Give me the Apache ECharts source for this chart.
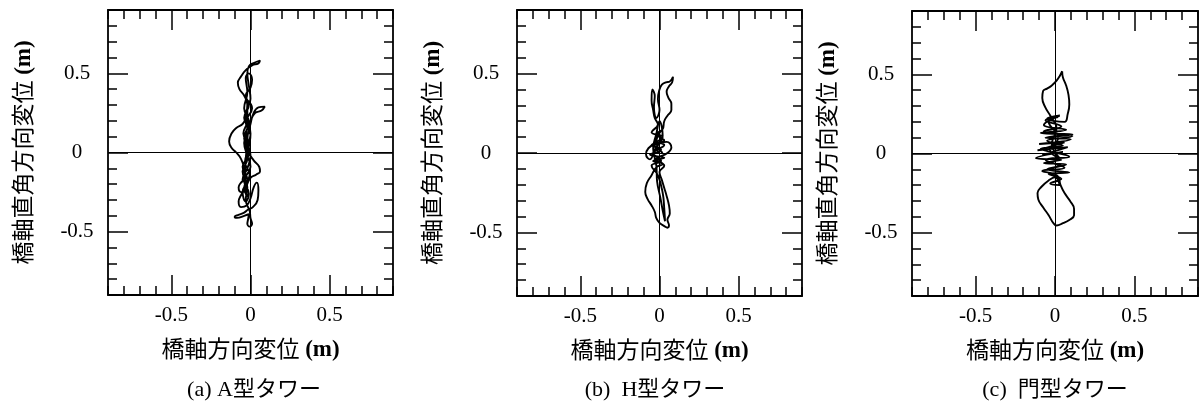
<!DOCTYPE html>
<html>
<head>
<meta charset="utf-8">
<script src="https://cdn.jsdelivr.net/npm/echarts@6/dist/echarts.min.js"></script>
<style>
  html, body { margin: 0; padding: 0; background: #fff; }
  #chart { width: 1204px; height: 408px; }
</style>
</head>
<body>
<div id="chart"></div>
<script>
// Axis range and labelled ticks (m)
const axisMin = -0.9;
const axisMax = 0.9;
const minorStep = 0.1;
const tickValues = [-0.5, 0, 0.5];
const tickLabels = ['-0.5', '0', '0.5'];

// Axis titles and panel captions
const xTitle = '橋軸方向変位';
const yTitle = '橋軸直角方向変位';
const unitLabel = '(m)';
const captions = ['(a) A型タワー', '(b)  H型タワー', '(c)  門型タワー'];

// Tower-top displacement orbits: [bridge-axis, transverse] (m)
const orbitA = [
  [-0.02, 0.00], [0.00, 0.12], [-0.03, 0.24], [0.00, 0.34], [-0.01, 0.42], [-0.02, 0.50],
  [-0.01, 0.545], [0.02, 0.565], [0.06, 0.58], [0.05, 0.563], [0.01, 0.55], [-0.03, 0.52],
  [-0.06, 0.48], [-0.08, 0.44], [-0.07, 0.40], [-0.04, 0.36], [-0.02, 0.30], [-0.03, 0.22],
  [-0.05, 0.18], [-0.09, 0.155], [-0.12, 0.12], [-0.135, 0.07], [-0.12, 0.03], [-0.09, 0.00],
  [-0.06, -0.04], [-0.04, -0.10], [-0.03, -0.16], [-0.06, -0.19], [-0.075, -0.22], [-0.06, -0.25],
  [-0.03, -0.24], [-0.03, -0.20], [-0.05, -0.17], [-0.02, -0.10], [0.00, -0.02], [-0.02, 0.08],
  [0.00, 0.18], [0.02, 0.25], [0.05, 0.285], [0.09, 0.29], [0.07, 0.265], [0.03, 0.25],
  [0.00, 0.20], [-0.03, 0.10], [-0.01, 0.00], [0.02, -0.05], [0.055, -0.09], [0.06, -0.12],
  [0.035, -0.14], [0.00, -0.16], [-0.03, -0.22], [-0.06, -0.27], [-0.075, -0.31], [-0.06, -0.345],
  [-0.025, -0.335], [0.00, -0.29], [0.02, -0.22], [0.04, -0.19], [0.05, -0.24], [0.045, -0.30],
  [0.015, -0.345], [-0.015, -0.36], [-0.04, -0.38], [-0.08, -0.395], [-0.10, -0.405], [-0.085, -0.413],
  [-0.04, -0.40], [-0.01, -0.39], [-0.015, -0.42], [-0.02, -0.45], [-0.005, -0.468], [0.01, -0.45],
  [0.00, -0.415], [-0.005, -0.37], [-0.03, -0.30], [-0.02, -0.22], [-0.05, -0.12], [-0.02, -0.04],
  [-0.04, 0.06], [-0.01, 0.14], [-0.04, 0.22], [-0.01, 0.30], [-0.03, 0.36], [0.00, 0.41],
  [0.01, 0.46], [-0.01, 0.50], [-0.03, 0.47], [-0.02, 0.38], [-0.04, 0.28], [-0.01, 0.19],
  [-0.04, 0.09], [-0.01, -0.01], [-0.05, -0.09], [-0.02, -0.17], [-0.05, -0.25], [-0.03, -0.31],
  [-0.01, -0.26], [-0.04, -0.18], [0.00, -0.09], [-0.03, 0.02], [0.00, 0.11], [-0.03, 0.19],
  [0.01, 0.28], [-0.02, 0.33], [-0.02, 0.20], [-0.045, 0.12], [-0.01, 0.04], [-0.035, -0.06],
  [-0.005, -0.14], [-0.04, -0.22], [-0.02, -0.28], [-0.035, -0.14], [-0.02, 0.05]
];

const orbitB = [
  [0.00, 0.00], [-0.03, 0.05], [0.02, 0.10], [-0.05, 0.13], [-0.01, 0.18], [-0.03, 0.22],
  [-0.04, 0.27], [-0.05, 0.33], [-0.045, 0.40], [-0.03, 0.36], [-0.035, 0.29], [-0.02, 0.22],
  [0.00, 0.27], [-0.01, 0.34], [0.00, 0.40], [0.015, 0.43], [0.04, 0.445], [0.065, 0.45],
  [0.085, 0.48], [0.08, 0.445], [0.06, 0.42], [0.045, 0.385], [0.055, 0.35], [0.075, 0.31],
  [0.075, 0.27], [0.05, 0.235], [0.03, 0.20], [0.02, 0.15], [-0.02, 0.12], [0.03, 0.08],
  [-0.05, 0.05], [0.01, 0.02], [-0.06, -0.01], [0.03, -0.03], [-0.04, -0.05], [0.02, -0.07],
  [-0.02, -0.09], [-0.05, -0.14], [-0.08, -0.19], [-0.09, -0.245], [-0.075, -0.29], [-0.05, -0.33],
  [-0.03, -0.37], [-0.02, -0.41], [0.00, -0.44], [0.03, -0.46], [0.05, -0.47], [0.06, -0.455],
  [0.05, -0.42], [0.065, -0.38], [0.06, -0.33], [0.045, -0.27], [0.03, -0.22], [0.015, -0.17],
  [0.00, -0.12], [0.03, -0.08], [-0.02, -0.04], [0.05, 0.00], [0.075, 0.035], [0.045, 0.07],
  [-0.02, 0.06], [-0.07, 0.03], [-0.085, -0.01], [-0.06, -0.04], [-0.03, 0.02], [0.02, 0.11],
  [0.00, 0.20], [-0.02, 0.12], [-0.04, 0.03], [-0.02, -0.08], [-0.015, -0.18], [0.005, -0.28],
  [0.02, -0.36], [0.035, -0.43], [0.03, -0.35], [0.02, -0.25], [-0.01, -0.14], [-0.05, -0.08],
  [0.01, -0.05], [-0.04, 0.00], [0.03, 0.05], [-0.03, 0.08], [0.01, 0.14], [-0.02, 0.07],
  [0.02, 0.00]
];

const orbitC = [
  [0.045, 0.52], [0.05, 0.48], [0.07, 0.43], [0.085, 0.37], [0.09, 0.31], [0.08, 0.25],
  [0.06, 0.20], [-0.05, 0.22], [0.03, 0.24], [-0.07, 0.18], [0.07, 0.15], [-0.09, 0.13],
  [0.11, 0.12], [-0.06, 0.10], [0.10, 0.09], [-0.10, 0.06], [0.06, 0.07], [-0.11, 0.02],
  [0.08, 0.04], [-0.08, -0.01], [0.05, 0.01], [-0.12, -0.03], [0.04, -0.04], [-0.07, -0.06],
  [0.07, -0.07], [-0.05, -0.10], [0.09, -0.12], [-0.04, -0.13], [0.04, -0.16], [-0.03, -0.19],
  [0.03, -0.20], [0.00, -0.15], [-0.04, -0.17], [-0.085, -0.21], [-0.11, -0.25], [-0.105, -0.29],
  [-0.075, -0.34], [-0.04, -0.39], [-0.01, -0.44], [0.01, -0.455], [0.05, -0.44], [0.09, -0.42],
  [0.12, -0.39], [0.12, -0.35], [0.095, -0.30], [0.06, -0.25], [0.035, -0.20], [0.015, -0.14],
  [-0.08, -0.11], [0.06, -0.09], [-0.06, -0.04], [0.09, -0.02], [-0.09, 0.03], [0.05, 0.05],
  [-0.05, 0.08], [0.11, 0.11], [-0.07, 0.14], [0.04, 0.17], [-0.06, 0.21], [0.02, 0.23],
  [-0.04, 0.20], [0.02, 0.10], [-0.03, 0.02], [0.03, -0.03], [-0.02, 0.06], [0.01, 0.16],
  [-0.03, 0.24], [-0.06, 0.29], [-0.08, 0.35], [-0.075, 0.395], [-0.05, 0.41], [-0.02, 0.43],
  [0.01, 0.46], [0.03, 0.49], [0.045, 0.52]
];

const orbits = [orbitA, orbitB, orbitC];

const FONT = "'Liberation Serif', 'Noto Sans CJK JP', serif";
const INK = '#000';

// Plot frames for the three panels (px)
const frames = [
  { left: 108, top: 10, width: 285, height: 285 },
  { left: 517, top: 10, width: 285, height: 286 },
  { left: 912, top: 11, width: 286, height: 285 }
];
const captionCenters = [254, 655, 1055];

function tickLabel(v) {
  const i = tickValues.findIndex(t => Math.abs(t - v) < 1e-9);
  return i >= 0 ? tickLabels[i] : '';
}

const nameStyle = {
  fontFamily: FONT, fontSize: 23, color: INK,
  rich: { u: { fontFamily: FONT, fontSize: 23, fontWeight: 'bold', color: INK } }
};

// Four axes per direction: framed axis with 0.1 ticks, opposite frame, and long ticks at labelled values
function axesFor(dim, gi) {
  const isX = dim === 'x';
  const base = {
    type: 'value', gridIndex: gi, min: axisMin, max: axisMax,
    splitLine: { show: false }, silent: true
  };
  const lineOn = { show: true, onZero: false, lineStyle: { color: INK, width: 1.8 } };
  const lineOff = { show: false, onZero: false };
  const minorTick = { show: true, inside: true, length: 9, lineStyle: { color: INK, width: 1.5 } };
  const majorTick = { show: true, inside: true, length: 20, customValues: tickValues, lineStyle: { color: INK, width: 1.5 } };
  const main = Object.assign({}, base, {
    position: isX ? 'bottom' : 'left',
    interval: minorStep,
    axisLine: lineOn,
    axisTick: minorTick,
    axisLabel: {
      show: true, customValues: tickValues, formatter: tickLabel,
      fontFamily: FONT, fontSize: 21, color: INK,
      margin: isX ? 10 : 31, align: 'center'
    },
    name: (isX ? xTitle : yTitle) + ' {u|' + unitLabel + '}',
    nameLocation: 'middle',
    nameGap: isX ? 44 : 72,
    nameTextStyle: nameStyle
  });
  const opposite = Object.assign({}, base, {
    position: isX ? 'top' : 'right',
    interval: minorStep,
    axisLine: lineOn,
    axisTick: minorTick,
    axisLabel: { show: false }
  });
  const majorA = Object.assign({}, base, {
    position: isX ? 'bottom' : 'left',
    axisLine: lineOff, axisTick: majorTick, axisLabel: { show: false }
  });
  const majorB = Object.assign({}, base, {
    position: isX ? 'top' : 'right',
    axisLine: lineOff, axisTick: majorTick, axisLabel: { show: false }
  });
  return [main, opposite, majorA, majorB];
}

const grids = frames.map(f => Object.assign({ containLabel: false }, f));
const xAxes = [], yAxes = [];
frames.forEach((f, gi) => {
  xAxes.push(...axesFor('x', gi));
  yAxes.push(...axesFor('y', gi));
});

const series = orbits.map((orbit, gi) => ({
  type: 'line',
  xAxisIndex: gi * 4,
  yAxisIndex: gi * 4,
  data: orbit,
  showSymbol: false,
  smooth: 0.45,
  lineStyle: { color: INK, width: 1.9 },
  silent: true,
  z: 3,
  markLine: {
    silent: true,
    symbol: ['none', 'none'],
    label: { show: false },
    lineStyle: { color: INK, width: 1, type: 'solid' },
    data: [{ xAxis: 0 }, { yAxis: 0 }]
  }
}));

const graphic = captions.map((text, i) => ({
  type: 'text',
  x: captionCenters[i],
  y: 390,
  style: {
    text: text,
    font: '22px ' + FONT,
    fill: INK,
    align: 'center', verticalAlign: 'middle',
    textAlign: 'center', textVerticalAlign: 'middle'
  }
}));

const chart = echarts.init(document.getElementById('chart'), null, { renderer: 'canvas' });
chart.setOption({
  animation: false,
  backgroundColor: '#fff',
  grid: grids,
  xAxis: xAxes,
  yAxis: yAxes,
  series: series,
  graphic: graphic
});
</script>
</body>
</html>
